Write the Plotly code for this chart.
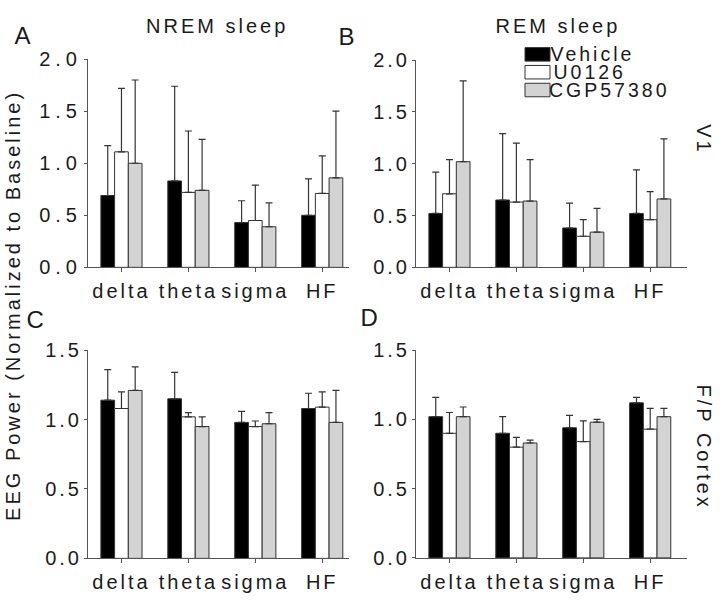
import plotly.graph_objects as go

# ---- data -------------------------------------------------------------
bands = ["delta", "theta", "sigma", "HF"]
groups = ["Vehicle", "U0126", "CGP57380"]

# A  V1, NREM sleep
a_vehicle = [0.69, 0.83, 0.43, 0.50]
a_vehicle_sem = [0.48, 0.91, 0.21, 0.35]
a_u0126 = [1.11, 0.72, 0.45, 0.71]
a_u0126_sem = [0.61, 0.59, 0.34, 0.36]
a_cgp = [1.00, 0.74, 0.39, 0.86]
a_cgp_sem = [0.80, 0.49, 0.23, 0.64]

# B  V1, REM sleep
b_vehicle = [0.52, 0.65, 0.38, 0.52]
b_vehicle_sem = [0.40, 0.64, 0.24, 0.42]
b_u0126 = [0.71, 0.63, 0.30, 0.46]
b_u0126_sem = [0.33, 0.57, 0.16, 0.27]
b_cgp = [1.02, 0.64, 0.34, 0.66]
b_cgp_sem = [0.78, 0.40, 0.23, 0.58]

# C  F/P cortex, NREM sleep
c_vehicle = [1.14, 1.15, 0.98, 1.08]
c_vehicle_sem = [0.22, 0.19, 0.08, 0.11]
c_u0126 = [1.08, 1.02, 0.95, 1.09]
c_u0126_sem = [0.12, 0.03, 0.04, 0.11]
c_cgp = [1.21, 0.95, 0.97, 0.98]
c_cgp_sem = [0.17, 0.07, 0.08, 0.23]

# D  F/P cortex, REM sleep
d_vehicle = [1.02, 0.90, 0.94, 1.12]
d_vehicle_sem = [0.14, 0.12, 0.09, 0.04]
d_u0126 = [0.90, 0.80, 0.84, 0.93]
d_u0126_sem = [0.15, 0.07, 0.15, 0.15]
d_cgp = [1.02, 0.83, 0.98, 1.02]
d_cgp_sem = [0.07, 0.02, 0.02, 0.06]

# ---- style ------------------------------------------------------------
W, H = 720, 606
FONT = "Liberation Sans, Arial, sans-serif"
TXT = "#1a1a1a"
AX = "#555555"
EDGE = "#333333"
FILLS = ["#000000", "#ffffff", "#d3d3d3"]


def px(x):
    return x / W


def py(y):
    return 1 - y / H


panels = [
    # axis suffix, x-px span, y-px span, y max, x range, series
    ("", (88, 349), (50, 266), 2.0, [-0.5, 3.4],
     [(a_vehicle, a_vehicle_sem), (a_u0126, a_u0126_sem), (a_cgp, a_cgp_sem)]),
    ("2", (416, 687), (51, 266), 2.0, [-0.5, 3.55],
     [(b_vehicle, b_vehicle_sem), (b_u0126, b_u0126_sem), (b_cgp, b_cgp_sem)]),
    ("3", (88, 349), (352, 568), 1.5, [-0.5, 3.4],
     [(c_vehicle, c_vehicle_sem), (c_u0126, c_u0126_sem), (c_cgp, c_cgp_sem)]),
    ("4", (416, 687), (352, 567.5), 1.5, [-0.5, 3.55],
     [(d_vehicle, d_vehicle_sem), (d_u0126, d_u0126_sem), (d_cgp, d_cgp_sem)]),
]

fig = go.Figure()
layout = dict(
    width=W, height=H, autosize=False,
    margin=dict(l=0, r=0, t=0, b=0),
    plot_bgcolor="white", paper_bgcolor="white",
    font=dict(family=FONT, size=20, color=TXT),
    barmode="group", bargap=0.385, bargroupgap=0,
    showlegend=False,
)

for sfx, xs, ys, ymax, xr, series in panels:
    for name, fill, (vals, sem) in zip(groups, FILLS, series):
        fig.add_trace(go.Bar(
            name=name, x=bands, y=vals,
            xaxis="x" + sfx, yaxis="y" + sfx,
            marker=dict(color=fill, line=dict(color=EDGE, width=1)),
            error_y=dict(type="data", array=sem, arrayminus=[0] * len(sem),
                         symmetric=False, color=EDGE, thickness=1.2, width=3.5),
        ))
    layout["xaxis" + sfx] = dict(
        domain=[px(xs[0]), px(xs[1])], anchor="y" + sfx, range=xr,
        showline=True, linecolor=AX, linewidth=1, showgrid=False, zeroline=False,
        ticks="outside", ticklen=4, tickcolor=AX, ticklabelstandoff=2,
        tickfont=dict(size=20, color=TXT), fixedrange=True,
    )
    layout["yaxis" + sfx] = dict(
        domain=[py(ys[1]), py(ys[0])], anchor="x" + sfx, range=[0, ymax],
        dtick=0.5, tickformat=".1f",
        showline=True, linecolor=AX, linewidth=1, showgrid=False, zeroline=False,
        ticks="outside", ticklen=3, tickcolor=AX, ticklabelstandoff=-2,
        tickfont=dict(size=20, color=TXT), fixedrange=True,
    )

ann = []


def label(text, x, y, size=20, angle=0, xanchor="center"):
    ann.append(dict(text=text, x=px(x), y=py(y), xref="paper", yref="paper",
                    showarrow=False, textangle=angle, xanchor=xanchor,
                    yanchor="middle", font=dict(size=size, color=TXT)))


label("NREM sleep", 217, 16)
label("REM sleep", 558, 16)
label("A", 24, 25, size=24)
label("B", 348, 26, size=24)
label("C", 36, 320, size=24)
label("D", 371, 318, size=24)
label("EEG Power (Normalized to Baseline)", 13, 306, angle=-90)
label("V1", 704, 133, angle=90)
label("F/P Cortex", 704, 452, angle=90)

# hand-drawn legend (wide boxes like the original)
shapes = []
legend_rows = [45, 63.5, 82]
for name, fill, yc in zip(groups, FILLS, legend_rows):
    shapes.append(dict(type="rect", xref="paper", yref="paper",
                       x0=px(525), x1=px(550), y0=py(yc + 7), y1=py(yc - 7),
                       fillcolor=fill, line=dict(color=EDGE, width=1)))
    label(name, 559, yc, size=19.5, xanchor="left")

layout["annotations"] = ann
layout["shapes"] = shapes
fig.update_layout(**layout)

# page margin off, and the wide letter spacing of the original figure
page_css = ("var s=document.createElement('style');"
            "s.innerHTML='body{margin:0} .main-svg text{letter-spacing:3px}"
            " .ytick text{letter-spacing:5px}';"
            "document.head.appendChild(s);")
fig.write_html("out.html", config={"displayModeBar": False}, post_script=page_css)
